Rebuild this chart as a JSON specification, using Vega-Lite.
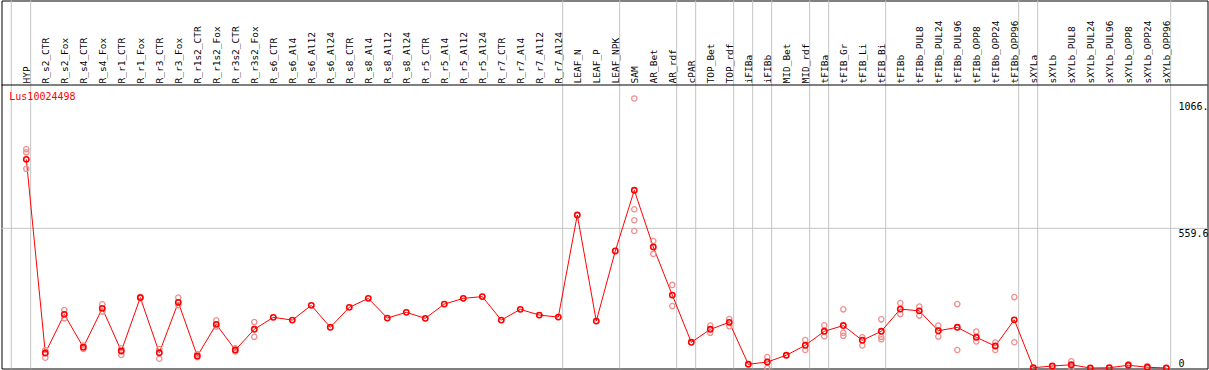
{
  "$schema": "https://vega.github.io/schema/vega-lite/v6.json",
  "autosize": {"type": "none"},
  "padding": {"left": 1.5, "top": 0.5, "right": 1.5, "bottom": 1.5},
  "width": 1206,
  "height": 368,
  "background": "white",
  "config": {"view": {"stroke": "#000000", "strokeWidth": 1}},
  "datasets": {
    "means": [
      {"cat": "HYP", "v": 836}, {"cat": "R_s2_CTR", "v": 60}, {"cat": "R_s2_Fox", "v": 215}, {"cat": "R_s4_CTR", "v": 83},
      {"cat": "R_s4_Fox", "v": 239}, {"cat": "R_r1_CTR", "v": 68}, {"cat": "R_r1_Fox", "v": 282}, {"cat": "R_r3_CTR", "v": 61},
      {"cat": "R_r3_Fox", "v": 263}, {"cat": "R_r1s2_CTR", "v": 48}, {"cat": "R_r1s2_Fox", "v": 175}, {"cat": "R_r3s2_CTR", "v": 72},
      {"cat": "R_r3s2_Fox", "v": 155}, {"cat": "R_s6_CTR", "v": 203}, {"cat": "R_s6_Al4", "v": 192}, {"cat": "R_s6_Al12", "v": 251},
      {"cat": "R_s6_Al24", "v": 163}, {"cat": "R_s8_CTR", "v": 243}, {"cat": "R_s8_Al4", "v": 279}, {"cat": "R_s8_Al12", "v": 200},
      {"cat": "R_s8_Al24", "v": 223}, {"cat": "R_r5_CTR", "v": 199}, {"cat": "R_r5_Al4", "v": 256}, {"cat": "R_r5_Al12", "v": 279},
      {"cat": "R_r5_Al24", "v": 286}, {"cat": "R_r7_CTR", "v": 192}, {"cat": "R_r7_Al4", "v": 235}, {"cat": "R_r7_Al12", "v": 212},
      {"cat": "R_r7_Al24", "v": 204}, {"cat": "LEAF_N", "v": 613}, {"cat": "LEAF_P", "v": 188}, {"cat": "LEAF_NPK", "v": 469},
      {"cat": "SAM", "v": 712}, {"cat": "AR_Bet", "v": 485}, {"cat": "AR_rdf", "v": 292}, {"cat": "cPAR", "v": 103},
      {"cat": "TOP_Bet", "v": 155}, {"cat": "TOP_rdf", "v": 183}, {"cat": "iFIBa", "v": 15}, {"cat": "iFIBb", "v": 24},
      {"cat": "MID_Bet", "v": 51}, {"cat": "MID_rdf", "v": 91}, {"cat": "tFIBa", "v": 147}, {"cat": "tFIB_Gr", "v": 170},
      {"cat": "tFIB_Li", "v": 111}, {"cat": "tFIB_Bi", "v": 147}, {"cat": "tFIBb", "v": 236}, {"cat": "tFIBb_PUL8", "v": 229},
      {"cat": "tFIBb_PUL24", "v": 149}, {"cat": "tFIBb_PUL96", "v": 163}, {"cat": "tFIBb_OPP8", "v": 123}, {"cat": "tFIBb_OPP24", "v": 88},
      {"cat": "tFIBb_OPP96", "v": 193}, {"cat": "sXYLa", "v": 1}, {"cat": "sXYLb", "v": 8}, {"cat": "sXYLb_PUL8", "v": 13},
      {"cat": "sXYLb_PUL24", "v": 0}, {"cat": "sXYLb_PUL96", "v": 1}, {"cat": "sXYLb_OPP8", "v": 11}, {"cat": "sXYLb_OPP24", "v": 3},
      {"cat": "sXYLb_OPP96", "v": 0}
    ],
    "reps": [
      {"cat": "HYP", "v": 877}, {"cat": "HYP", "v": 864}, {"cat": "HYP", "v": 798},
      {"cat": "R_s2_CTR", "v": 72}, {"cat": "R_s2_CTR", "v": 41},
      {"cat": "R_s2_Fox", "v": 232}, {"cat": "R_s2_Fox", "v": 199},
      {"cat": "R_s4_CTR", "v": 90}, {"cat": "R_s4_CTR", "v": 76},
      {"cat": "R_s4_Fox", "v": 255}, {"cat": "R_s4_Fox", "v": 226},
      {"cat": "R_r1_CTR", "v": 79}, {"cat": "R_r1_CTR", "v": 52},
      {"cat": "R_r1_Fox", "v": 285}, {"cat": "R_r1_Fox", "v": 279},
      {"cat": "R_r3_CTR", "v": 76}, {"cat": "R_r3_CTR", "v": 37},
      {"cat": "R_r3_Fox", "v": 282}, {"cat": "R_r3_Fox", "v": 252},
      {"cat": "R_r1s2_CTR", "v": 56}, {"cat": "R_r1s2_CTR", "v": 43},
      {"cat": "R_r1s2_Fox", "v": 191}, {"cat": "R_r1s2_Fox", "v": 166},
      {"cat": "R_r3s2_CTR", "v": 79}, {"cat": "R_r3s2_CTR", "v": 66},
      {"cat": "R_r3s2_Fox", "v": 184}, {"cat": "R_r3s2_Fox", "v": 125},
      {"cat": "SAM", "v": 1080}, {"cat": "SAM", "v": 636}, {"cat": "SAM", "v": 592}, {"cat": "SAM", "v": 549},
      {"cat": "AR_Bet", "v": 509}, {"cat": "AR_Bet", "v": 457},
      {"cat": "AR_rdf", "v": 333}, {"cat": "AR_rdf", "v": 248},
      {"cat": "TOP_Bet", "v": 170}, {"cat": "TOP_Bet", "v": 141},
      {"cat": "TOP_rdf", "v": 196}, {"cat": "TOP_rdf", "v": 168},
      {"cat": "iFIBb", "v": 44}, {"cat": "iFIBb", "v": 0},
      {"cat": "MID_rdf", "v": 112}, {"cat": "MID_rdf", "v": 72},
      {"cat": "tFIBa", "v": 171}, {"cat": "tFIBa", "v": 127},
      {"cat": "tFIB_Gr", "v": 235}, {"cat": "tFIB_Gr", "v": 141}, {"cat": "tFIB_Gr", "v": 129},
      {"cat": "tFIB_Li", "v": 123}, {"cat": "tFIB_Li", "v": 90},
      {"cat": "tFIB_Bi", "v": 195}, {"cat": "tFIB_Bi", "v": 125}, {"cat": "tFIB_Bi", "v": 115},
      {"cat": "tFIBb", "v": 260}, {"cat": "tFIBb", "v": 216},
      {"cat": "tFIBb_PUL8", "v": 246}, {"cat": "tFIBb_PUL8", "v": 210},
      {"cat": "tFIBb_PUL24", "v": 170}, {"cat": "tFIBb_PUL24", "v": 126},
      {"cat": "tFIBb_PUL96", "v": 256}, {"cat": "tFIBb_PUL96", "v": 72},
      {"cat": "tFIBb_OPP8", "v": 146}, {"cat": "tFIBb_OPP8", "v": 106},
      {"cat": "tFIBb_OPP24", "v": 102}, {"cat": "tFIBb_OPP24", "v": 72},
      {"cat": "tFIBb_OPP96", "v": 284}, {"cat": "tFIBb_OPP96", "v": 103},
      {"cat": "sXYLb_PUL8", "v": 27}, {"cat": "sXYLb_PUL8", "v": 0},
      {"cat": "sXYLb_OPP8", "v": 15}, {"cat": "sXYLb_OPP24", "v": 8}
    ],
    "seps": [
      {"after": "HYP"}, {"after": "R_r7_Al24"}, {"after": "LEAF_NPK"}, {"after": "AR_rdf"}, {"after": "cPAR"},
      {"after": "TOP_rdf"}, {"after": "iFIBa"}, {"after": "iFIBb"}, {"after": "MID_rdf"}, {"after": "tFIBa"},
      {"after": "tFIB_Bi"}, {"after": "tFIBb_OPP96"}, {"after": "sXYLa"}, {"after": "sXYLb_OPP96"}
    ]
  },
  "layer": [
    {
      "data": {"name": "seps"},
      "mark": {"type": "rule", "color": "#c4c4c4", "strokeWidth": 1},
      "encoding": {
        "x": {"field": "after", "type": "nominal", "bandPosition": 0.73,
              "scale": {"type": "band", "paddingInner": 0, "paddingOuter": 0, "range": [15.3, 1174.3],
                "domain": ["HYP","R_s2_CTR","R_s2_Fox","R_s4_CTR","R_s4_Fox","R_r1_CTR","R_r1_Fox","R_r3_CTR","R_r3_Fox","R_r1s2_CTR","R_r1s2_Fox","R_r3s2_CTR","R_r3s2_Fox","R_s6_CTR","R_s6_Al4","R_s6_Al12","R_s6_Al24","R_s8_CTR","R_s8_Al4","R_s8_Al12","R_s8_Al24","R_r5_CTR","R_r5_Al4","R_r5_Al12","R_r5_Al24","R_r7_CTR","R_r7_Al4","R_r7_Al12","R_r7_Al24","LEAF_N","LEAF_P","LEAF_NPK","SAM","AR_Bet","AR_rdf","cPAR","TOP_Bet","TOP_rdf","iFIBa","iFIBb","MID_Bet","MID_rdf","tFIBa","tFIB_Gr","tFIB_Li","tFIB_Bi","tFIBb","tFIBb_PUL8","tFIBb_PUL24","tFIBb_PUL96","tFIBb_OPP8","tFIBb_OPP24","tFIBb_OPP96","sXYLa","sXYLb","sXYLb_PUL8","sXYLb_PUL24","sXYLb_PUL96","sXYLb_OPP8","sXYLb_OPP24","sXYLb_OPP96"]},
              "axis": {"orient": "top", "title": null, "domain": false, "ticks": false, "tickSize": 0, "grid": false,
                       "labelAngle": -90, "labelAlign": "left", "labelBaseline": "middle", "labelPadding": -82.5, "labelOffset": 1,
                       "labelFont": "DejaVu Sans Mono", "labelFontSize": 9.5, "labelColor": "#000000",
                       "labelOverlap": false, "labelBound": false, "labelFlush": false, "labelLimit": 200, "zindex": 1}}
      }
    },
    {
      "data": {"values": [{"edge": "HYP"}]},
      "mark": {"type": "rule", "color": "#c4c4c4", "strokeWidth": 1, "xOffset": -5.5},
      "encoding": {"x": {"field": "edge", "type": "nominal", "bandPosition": 0}}
    },
    {
      "data": {"values": [{"g": 559.6}]},
      "mark": {"type": "rule", "color": "#c4c4c4", "strokeWidth": 1},
      "encoding": {
        "y": {"field": "g", "type": "quantitative",
              "scale": {"domain": [-2, 1472.4], "nice": false, "zero": false},
              "axis": {"orient": "right", "title": null, "domain": false, "ticks": false, "tickSize": 0, "grid": false,
                       "values": [0, 559.6, 1066],
                       "labelExpr": "datum.value == 1066 ? '1066.' : (datum.value == 0 ? '0' : '559.6')",
                       "labelAlign": "left", "labelPadding": -29.5,
                       "labelBaseline": {"condition": {"test": "datum.value == 0", "value": "bottom"}, "value": "top"},
                       "labelFont": "DejaVu Sans Mono", "labelFontSize": 10, "labelColor": "#000000",
                       "labelOverlap": false, "labelBound": false, "labelFlush": false, "zindex": 1}}
      }
    },
    {
      "data": {"values": [{"h": 1133.8}]},
      "mark": {"type": "rule", "color": "#000000", "strokeWidth": 1},
      "encoding": {"y": {"field": "h", "type": "quantitative"}}
    },
    {
      "data": {"name": "means"},
      "mark": {"type": "line", "color": "#ff0000", "strokeWidth": 1},
      "encoding": {
        "x": {"field": "cat", "type": "nominal"},
        "y": {"field": "v", "type": "quantitative"}
      }
    },
    {
      "data": {"name": "reps"},
      "mark": {"type": "point", "shape": "circle", "filled": false, "color": "#ee9090", "strokeWidth": 1.3, "size": 28, "opacity": 1},
      "encoding": {
        "x": {"field": "cat", "type": "nominal"},
        "y": {"field": "v", "type": "quantitative"}
      }
    },
    {
      "data": {"name": "means"},
      "mark": {"type": "point", "shape": "circle", "filled": false, "color": "#ff0000", "strokeWidth": 1.6, "size": 28, "opacity": 1},
      "encoding": {
        "x": {"field": "cat", "type": "nominal"},
        "y": {"field": "v", "type": "quantitative"}
      }
    },
    {
      "data": {"values": [{"cat": "HYP", "v": 1087, "label": "Lus10024498"}]},
      "mark": {"type": "text", "color": "#ff0000", "font": "DejaVu Sans Mono", "fontSize": 10, "align": "left", "baseline": "middle", "dx": -17},
      "encoding": {
        "x": {"field": "cat", "type": "nominal"},
        "y": {"field": "v", "type": "quantitative"},
        "text": {"field": "label"}
      }
    }
  ]
}
